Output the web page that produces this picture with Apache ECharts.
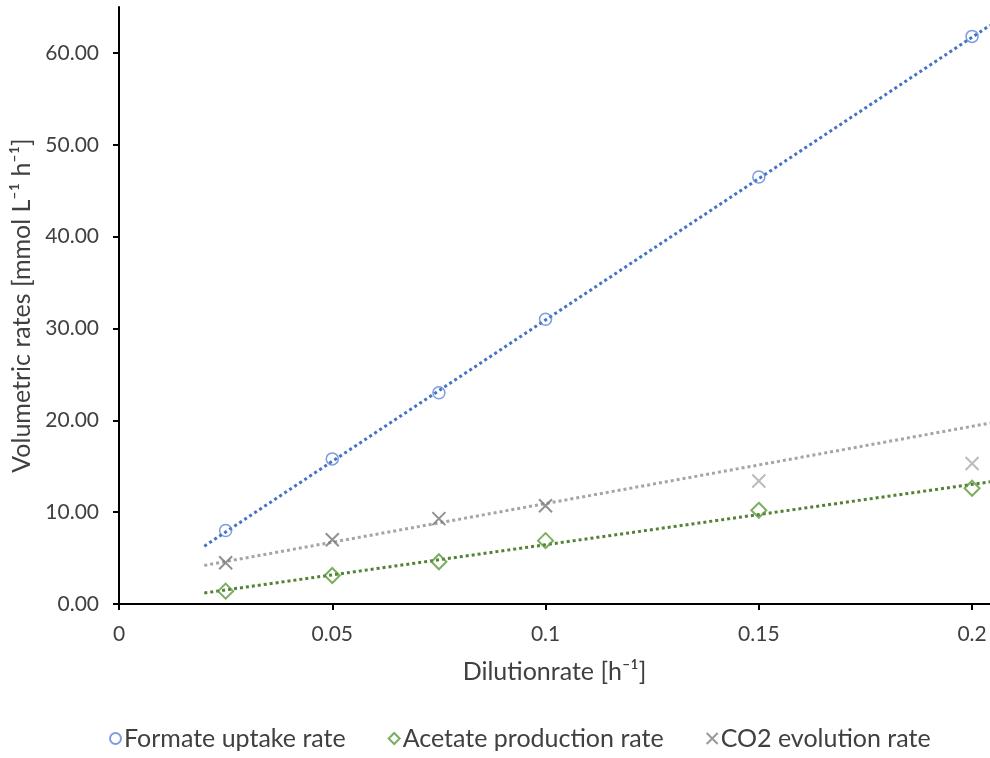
<!DOCTYPE html>
<html><head><meta charset="utf-8">
<script src="https://cdn.jsdelivr.net/npm/echarts@6/dist/echarts.min.js"></script>
<style>html,body{margin:0;padding:0;background:#fff}#c{width:990px;height:758px}</style>
</head><body><div id="c"></div>
<script>
const dilution = [0.025, 0.05, 0.075, 0.1, 0.15, 0.2];
const formate = [8.0, 15.8, 23.0, 31.0, 46.5, 61.8];
const acetate = [1.4, 3.1, 4.6, 6.9, 10.2, 12.6];
const co2 = [4.5, 7.0, 9.3, 10.7, 13.4, 15.3];
// trendline endpoints
const trendX = [0.02, 0.2042];
const formateTrend = [6.3, 63.0];
const acetateTrend = [1.2, 13.3];
const co2Trend = [4.2, 19.7];
const xTicks = [0, 0.05, 0.1, 0.15, 0.2];

const FONT = "Lato, 'Noto Sans', sans-serif";
const pts = (ys) => dilution.map((x, i) => [x, ys[i]]);
const tr = (ys) => trendX.map((x, i) => [x, ys[i]]);
const xPath = 'path://M0,0L10,10M10,0L0,10';

const chart = echarts.init(document.getElementById('c'), null, {renderer: 'canvas'});
chart.setOption({
  animation: false,
  textStyle: {fontFamily: FONT},
  grid: {left: 119, right: 0, top: 7, bottom: 154},
  xAxis: {
    type: 'value', min: 0, max: 0.2042, interval: 0.05,
    splitLine: {show: false},
    axisLine: {lineStyle: {color: '#000', width: 2}},
    axisTick: {show: true, length: 6, lineStyle: {color: '#000', width: 2}},
    axisLabel: {color: '#404040', fontSize: 21, fontFamily: FONT, margin: 20, showMaxLabel: false,
      formatter: (v) => { const t = xTicks.find(k => Math.abs(k - v) < 1e-9); return t === undefined ? '' : String(t); }},
    name: 'Dilutionrate [h\u207B\u00B9]', nameLocation: 'middle', nameGap: 55,
    nameTextStyle: {color: '#404040', fontSize: 25, fontFamily: FONT}
  },
  yAxis: {
    type: 'value', min: 0, max: 65, interval: 10,
    splitLine: {show: false},
    axisLine: {show: true, lineStyle: {color: '#000', width: 2}},
    axisTick: {show: true, length: 6, lineStyle: {color: '#000', width: 2}},
    axisLabel: {color: '#404040', fontSize: 21, fontFamily: FONT, margin: 20, showMaxLabel: false,
      formatter: (v) => v % 10 === 0 ? v.toFixed(2) : ''},
    name: 'Volumetric rates [mmol L\u207B\u00B9 h\u207B\u00B9]', nameLocation: 'middle', nameGap: 85,
    nameTextStyle: {color: '#404040', fontSize: 25, fontFamily: FONT}
  },
  legend: {
    bottom: 2, left: 104, itemGap: 42, itemWidth: 11, itemHeight: 11,
    textStyle: {color: '#404040', fontSize: 25, fontFamily: FONT, padding: [0, 0, 0, -2]},
    data: ['Formate uptake rate', 'Acetate production rate', 'CO2 evolution rate']
  },
  series: [
    {type: 'line', data: tr(formateTrend), symbol: 'none', silent: true, z: 1,
     lineStyle: {color: '#4472C4', width: 3, type: [3, 3]}},
    {type: 'line', data: tr(acetateTrend), symbol: 'none', silent: true, z: 1,
     lineStyle: {color: '#548235', width: 3, type: [3, 3]}},
    {type: 'line', data: tr(co2Trend), symbol: 'none', silent: true, z: 1,
     lineStyle: {color: '#A5A5A5', width: 3, type: [3, 3]}},
    {name: 'Formate uptake rate', type: 'scatter', data: pts(formate), symbol: 'circle', symbolSize: 12, z: 3,
     itemStyle: {color: 'rgba(255,255,255,0)', borderColor: '#5B85D6', borderWidth: 1.5}},
    {name: 'Acetate production rate', type: 'scatter', data: pts(acetate), symbol: 'diamond', symbolSize: 15, z: 3,
     itemStyle: {color: 'rgba(255,255,255,0)', borderColor: '#5A9A3A', borderWidth: 2}},
    {name: 'CO2 evolution rate', type: 'scatter', symbol: xPath, symbolSize: 13, z: 3,
     data: pts(co2).map((p, i) => ({value: p, itemStyle: {borderColor: i < 4 ? '#767676' : '#AAAAAA'}})),
     itemStyle: {color: 'rgba(255,255,255,0)', borderColor: '#7F7F7F', borderWidth: 2}}
  ]
});
</script>
</body></html>
